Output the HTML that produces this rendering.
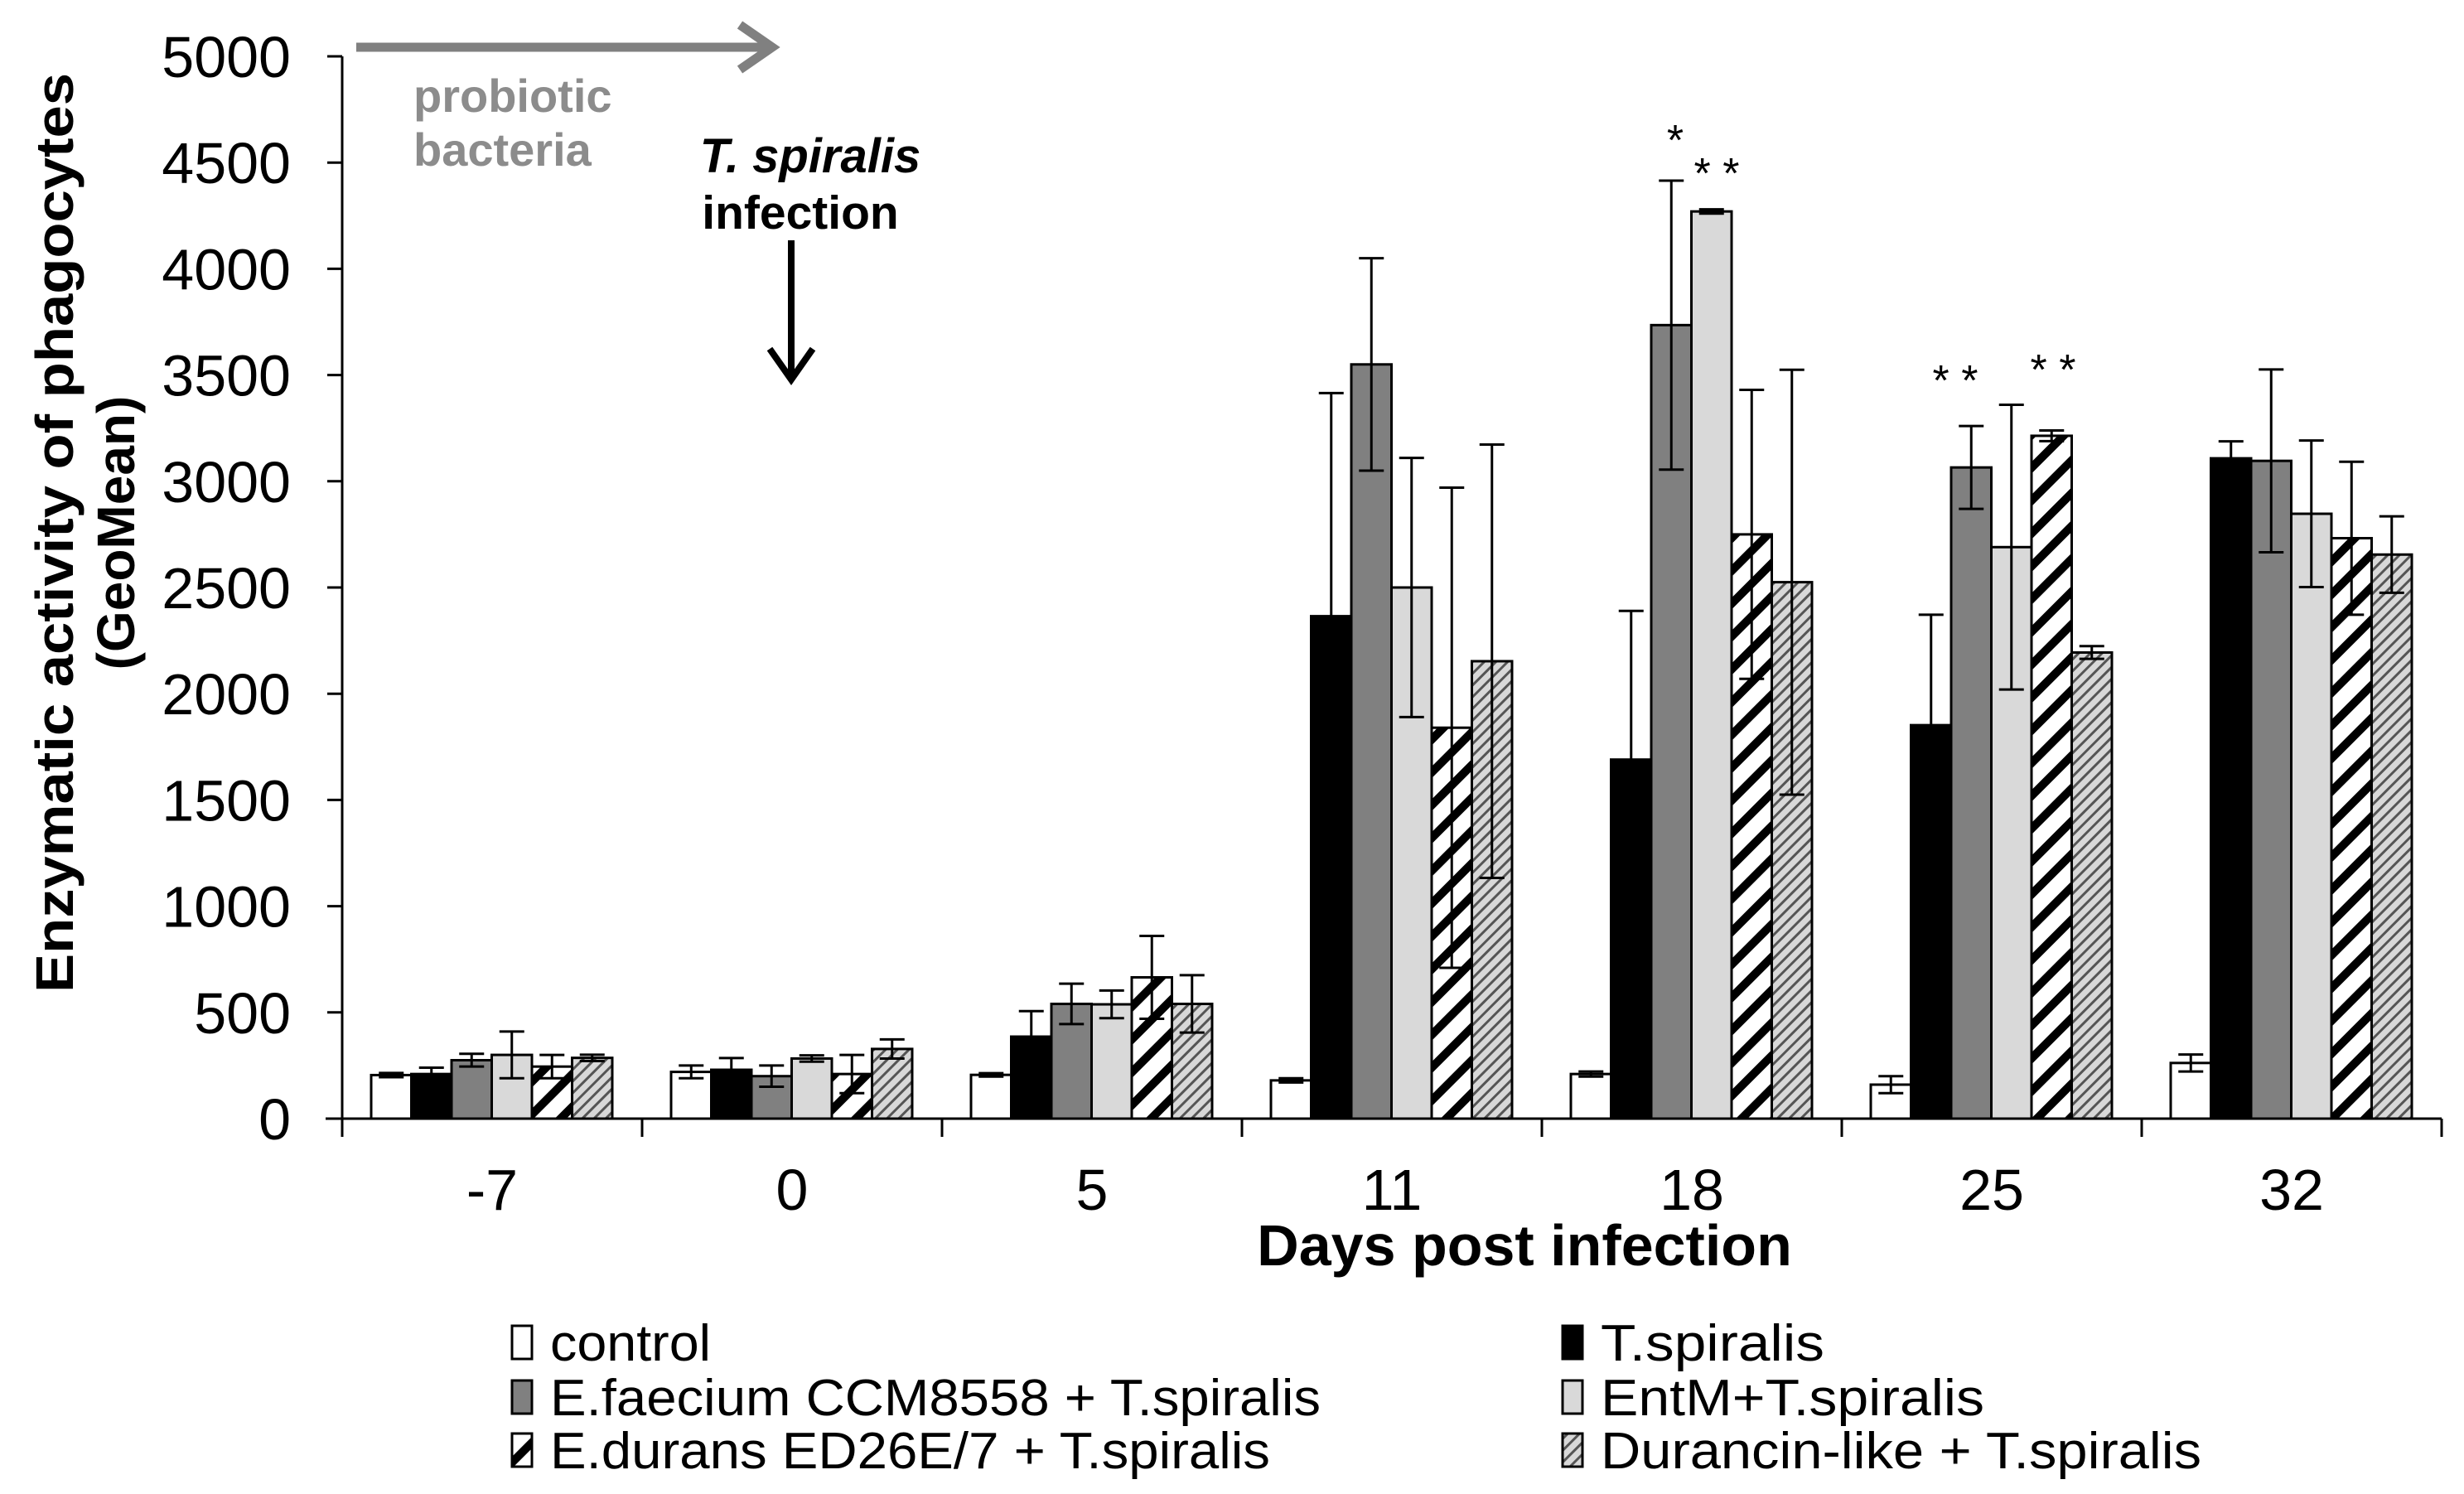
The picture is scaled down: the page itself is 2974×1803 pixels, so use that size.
<!DOCTYPE html>
<html><head><meta charset="utf-8"><style>
html,body{margin:0;padding:0;background:#fff;}
svg{display:block;font-family:"Liberation Sans",Arial,sans-serif;}
</style></head><body>
<svg id="chart" width="2974" height="1803" viewBox="0 0 2974 1803" xmlns="http://www.w3.org/2000/svg">
<defs>
<pattern id="hatchBold" patternUnits="userSpaceOnUse" width="28" height="28" patternTransform="rotate(45)">
<rect width="28" height="28" fill="#fff"/><rect x="0" y="0" width="10" height="28" fill="#000"/>
</pattern>
<pattern id="hatchFine" patternUnits="userSpaceOnUse" width="10" height="10" patternTransform="rotate(45)">
<rect width="10" height="10" fill="#d8d8d8"/><rect x="0" y="0" width="3" height="10" fill="#555"/>
</pattern>
</defs>
<g id="plot"></g>
<g>
<line x1="430" y1="57" x2="930" y2="57" stroke="#808080" stroke-width="11"/>
<polyline points="893,30 932,57 893,84" fill="none" stroke="#808080" stroke-width="11"/>
<text x="499" y="135" font-size="56" font-weight="bold" fill="#8c8c8c">probiotic</text>
<text x="499" y="200" font-size="56" font-weight="bold" fill="#8c8c8c">bacteria</text>
<text x="978" y="208" font-size="58" font-weight="bold" font-style="italic" text-anchor="middle">T. spiralis</text>
<text x="966" y="276" font-size="57" font-weight="bold" text-anchor="middle">infection</text>
<line x1="955" y1="290" x2="955" y2="455" stroke="#000" stroke-width="8"/>
<polyline points="929,421 955,458 981,421" fill="none" stroke="#000" stroke-width="8"/>
<text x="2022" y="187" font-size="52" text-anchor="middle">*</text>
<text x="2072" y="227" font-size="52" text-anchor="middle">* *</text>
<text x="2360" y="477" font-size="52" text-anchor="middle">* *</text>
<text x="2478" y="464" font-size="52" text-anchor="middle">* *</text>
</g>
<g>
<text transform="translate(88,643) rotate(-90)" font-size="64" font-weight="bold" text-anchor="middle" textLength="1110" lengthAdjust="spacingAndGlyphs">Enzymatic activity of phagocytes</text>
<text transform="translate(162,643) rotate(-90)" font-size="64" font-weight="bold" text-anchor="middle">(GeoMean)</text>
</g>
<text x="1840" y="1527" font-size="70" font-weight="bold" text-anchor="middle">Days post infection</text>
<g id="legend"></g>
</svg>
<script>
const categories = ["-7","0","5","11","18","25","32"];
const seriesNames = ["control","T.spiralis","E.faecium  CCM8558 + T.spiralis","EntM+T.spiralis","E.durans ED26E/7 + T.spiralis","Durancin-like + T.spiralis"];
const control   = [205, 220, 206, 180, 210, 160, 262];
const tspiralis = [210, 230, 386, 2365, 1690, 1852, 3108];
const efaecium  = [275, 200, 540, 3550, 3735, 3065, 3096];
const entm      = [300, 283, 538, 2500, 4270, 2690, 2847];
const edurans   = [245, 210, 665, 1840, 2750, 3214, 2732];
const durancin  = [286, 328, 540, 2153, 2525, 2194, 2655];
const errControl   = [10, 30, 8, 10, 12, 40, 40];
const errTspiralis = [30, 55, 120, 1050, 700, 520, 80];
const errEfaecium  = [30, 50, 95, 500, 680, 195, 430];
const errEntm      = [110, 15, 65, 610, 10, 670, 345];
const errEdurans   = [55, 90, 195, 1130, 680, 25, 360];
const errDurancin  = [15, 45, 135, 1020, 1000, 30, 180];
const yTicks = [0,500,1000,1500,2000,2500,3000,3500,4000,4500,5000];

const values = [control,tspiralis,efaecium,entm,edurans,durancin];
const errors = [errControl,errTspiralis,errEfaecium,errEntm,errEdurans,errDurancin];
const fills = ["#ffffff","#000000","#808080","#d9d9d9","url(#hatchBold)","url(#hatchFine)"];
const seriesKeys = ["control","t-spiralis","e-faecium","entm","e-durans","durancin"];

const X0 = 413, GW = 362, Y0 = 1350, YTOP = 68, BW = 48.5, BOFF = 35;
const yScale = v => Y0 - v*(Y0-YTOP)/5000;
const xGroup = g => X0 + g*GW;
const xBar = (g,i) => xGroup(g) + BOFF + i*BW;
const NS = "http://www.w3.org/2000/svg";
const plot = document.getElementById('plot');
function mk(tag, attrs, parent){ const e=document.createElementNS(NS,tag); for(const k in attrs) e.setAttribute(k,attrs[k]); parent.appendChild(e); return e; }

values.forEach((arr,i)=>{
  arr.forEach((v,g)=>{
    const r = mk('rect',{x:xBar(g,i),y:yScale(v),width:BW,height:Y0-yScale(v),fill:fills[i],stroke:"#000","stroke-width":3},plot);
    
    
  });
});
values.forEach((arr,i)=>{
  arr.forEach((v,g)=>{
    const e = errors[i][g], cx = xBar(g,i)+BW/2;
    const grp = mk('g',{stroke:"#000","stroke-width":3},plot);
    
    
    mk('line',{x1:cx,x2:cx,y1:yScale(v+e),y2:yScale(Math.max(0,v-e))},grp);
    mk('line',{x1:cx-15,x2:cx+15,y1:yScale(v+e),y2:yScale(v+e)},grp);
    mk('line',{x1:cx-15,x2:cx+15,y1:yScale(Math.max(0,v-e)),y2:yScale(Math.max(0,v-e))},grp);
  });
});
const ax = mk('g',{stroke:"#000","stroke-width":3},plot);


mk('line',{x1:X0,x2:X0,y1:YTOP,y2:Y0+22},ax);
mk('line',{x1:X0-20,x2:xGroup(categories.length),y1:Y0,y2:Y0},ax);
yTicks.forEach(t=>{
  const l = mk('line',{x1:X0-18,x2:X0,y1:yScale(t),y2:yScale(t)},ax);
  
  
  const tx = mk('text',{x:351,y:yScale(t)+25,"font-size":70,"text-anchor":"end",fill:"#000",stroke:"none"},plot);
  tx.textContent = t;
  
  
});
for(let g=1; g<=categories.length; g++){
  const l = mk('line',{x1:xGroup(g),x2:xGroup(g),y1:Y0,y2:Y0+22},ax);
  
  
}
categories.forEach((c,g)=>{
  const tx = mk('text',{x:xGroup(g)+GW/2,y:1460,"font-size":70,"text-anchor":"middle"},plot);
  tx.textContent = c;
  
  
});
const legend = document.getElementById('legend');
const legPos = [[618,1620],[1886,1620],[618,1686],[1886,1686],[618,1750],[1886,1750]];
const legLen = [194,270,930,463,869,725];
seriesNames.forEach((n,i)=>{
  const [lx,ly] = legPos[i];
  const g = mk('g',{},legend);
  
  
  mk('rect',{x:lx,y:ly-20,width:24,height:40,fill:fills[i],stroke:"#000","stroke-width":3},g);
  const t = mk('text',{x:lx+46,y:ly+22,"font-size":62,textLength:legLen[i],lengthAdjust:"spacingAndGlyphs"},g);
  t.textContent = n;
});
</script>
</body></html>
